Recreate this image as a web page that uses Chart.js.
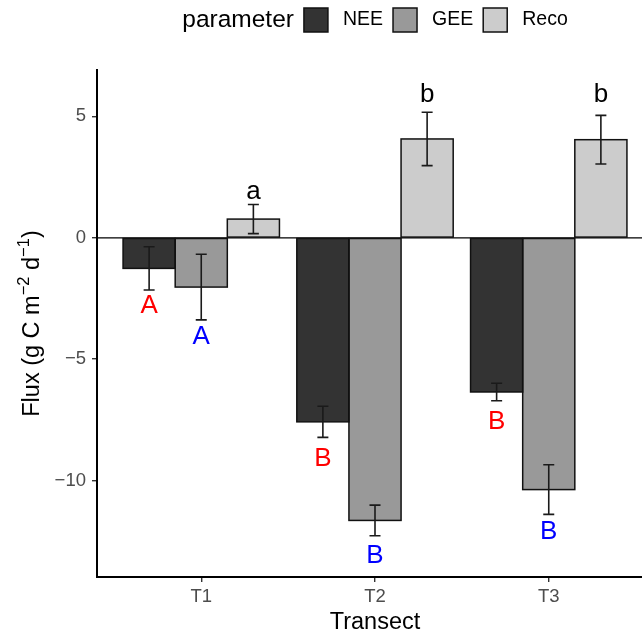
<!DOCTYPE html>
<html>
<head>
<meta charset="utf-8">
<script src="https://cdn.jsdelivr.net/npm/chart.js@4/dist/chart.umd.min.js"></script>
<style>
  html, body { margin: 0; padding: 0; overflow: hidden; background: #fff; }
  #wrap { width: 670px; height: 632px; position: relative; }
</style>
</head>
<body>
<div id="wrap"><canvas id="fluxChart"></canvas></div>
<script>
const categories = ['T1', 'T2', 'T3'];
const seriesNames = ['NEE', 'GEE', 'Reco'];
const seriesColors = ['#333333', '#999999', '#cccccc'];

const neeValues = [-1.26, -7.58, -6.35];
const geeValues = [-2.03, -11.64, -10.37];
const recoValues = [0.77, 4.07, 4.04];

const neeErrors = [0.89, 0.64, 0.36];
const geeErrors = [1.35, 0.63, 1.02];
const recoErrors = [0.60, 1.10, 1.00];

// significance letters and where they sit (baseline, data units)
const neeLetters = ['A', 'B', 'B'];
const geeLetters = ['A', 'B', 'B'];
const recoLetters = ['a', 'b', 'b'];
const neeLetterY = [-3.10, -9.41, -7.89];
const geeLetterY = [-4.39, -13.39, -12.39];
const recoLetterY = [1.59, 5.58, 5.60];
const letterColors = ['#ff0000', '#0000ff', '#000000'];

const yTicks = [-10, -5, 0, 5];
const yMin = -13.97;
const yMax = 6.91;

const FONT = "'Liberation Sans', Arial, sans-serif";

document.addEventListener('DOMContentLoaded', function() {
  const allValues = [neeValues, geeValues, recoValues];
  const allErrors = [neeErrors, geeErrors, recoErrors];
  const allLetters = [neeLetters, geeLetters, recoLetters];
  const allLetterY = [neeLetterY, geeLetterY, recoLetterY];

  const datasets = seriesNames.map((name, s) => ({
    label: name,
    data: allValues[s].map((v, i) => ({ x: i, y: v })),
    backgroundColor: seriesColors[s],
    borderWidth: 0,
    inflateAmount: 0,
    categoryPercentage: 0.9,
    barPercentage: 1.0,
    errors: allErrors[s],
    letters: allLetters[s],
    letterY: allLetterY[s],
    letterColor: letterColors[s]
  }));

  // zero line, bar outlines, error bars, letters, legend and axis titles
  const extras = {
    id: 'extras',
    beforeDatasetsDraw(chart) {
      const ctx = chart.ctx;
      const area = chart.chartArea;
      const y0 = chart.scales.y.getPixelForValue(0);
      ctx.save();
      ctx.strokeStyle = '#000';
      ctx.lineWidth = 1.2;
      ctx.beginPath();
      ctx.moveTo(area.left, y0);
      ctx.lineTo(area.right, y0);
      ctx.stroke();
      ctx.restore();
    },
    afterDatasetsDraw(chart) {
      const ctx = chart.ctx;
      const yScale = chart.scales.y;
      ctx.save();
      // outlines centred on the bar edges so neighbours share one line
      chart.data.datasets.forEach((ds, s) => {
        chart.getDatasetMeta(s).data.forEach(bar => {
          ctx.strokeStyle = '#111';
          ctx.lineWidth = 1.5;
          ctx.strokeRect(bar.x - bar.width / 2, Math.min(bar.y, bar.base),
                         bar.width, Math.abs(bar.base - bar.y));
        });
      });
      chart.data.datasets.forEach((ds, s) => {
        const meta = chart.getDatasetMeta(s);
        meta.data.forEach((bar, i) => {
          const v = ds.data[i].y;
          const e = ds.errors[i];
          const top = yScale.getPixelForValue(v + e);
          const bot = yScale.getPixelForValue(v - e);
          ctx.strokeStyle = '#1a1a1a';
          ctx.lineWidth = 1.6;
          ctx.beginPath();
          ctx.moveTo(bar.x, top);
          ctx.lineTo(bar.x, bot);
          ctx.moveTo(bar.x - 5.5, top);
          ctx.lineTo(bar.x + 5.5, top);
          ctx.moveTo(bar.x - 5.5, bot);
          ctx.lineTo(bar.x + 5.5, bot);
          ctx.stroke();

          ctx.fillStyle = ds.letterColor;
          ctx.font = '26px ' + FONT;
          ctx.textAlign = 'center';
          ctx.textBaseline = 'alphabetic';
          ctx.fillText(ds.letters[i], bar.x, yScale.getPixelForValue(ds.letterY[i]));
        });
      });
      ctx.restore();
    },
    afterDraw(chart) {
      const ctx = chart.ctx;
      const area = chart.chartArea;
      const cx = (area.left + area.right) / 2;
      ctx.save();

      // legend
      ctx.textBaseline = 'middle';
      ctx.textAlign = 'left';
      ctx.font = '24.5px ' + FONT;
      const titleW = ctx.measureText('parameter').width;
      ctx.font = '19.5px ' + FONT;
      const labelW = seriesNames.map(n => ctx.measureText(n).width);
      const box = 24;
      let total = titleW + 10;
      labelW.forEach((w, i) => { total += box + 15 + w + (i < labelW.length - 1 ? 10 : 0); });
      let x = cx - total / 2;
      const ly = 20;
      ctx.fillStyle = '#000';
      ctx.font = '24.5px ' + FONT;
      ctx.fillText('parameter', x, ly);
      x += titleW + 10;
      ctx.font = '19.5px ' + FONT;
      seriesNames.forEach((n, i) => {
        ctx.fillStyle = seriesColors[i];
        ctx.fillRect(x, ly - box / 2, box, box);
        ctx.strokeStyle = '#111';
        ctx.lineWidth = 1.5;
        ctx.strokeRect(x, ly - box / 2, box, box);
        x += box + 15;
        ctx.fillStyle = '#000';
        ctx.fillText(n, x, ly);
        x += labelW[i] + 10;
      });

      // x title
      ctx.textAlign = 'center';
      ctx.textBaseline = 'alphabetic';
      ctx.font = '23.5px ' + FONT;
      ctx.fillText('Transect', cx, 629);

      // y title with superscripts
      const parts = [
        { t: 'Flux (g C m', sup: false },
        { t: '\u22122', sup: true },
        { t: ' d', sup: false },
        { t: '\u22121', sup: true },
        { t: ')', sup: false }
      ];
      const mainFont = '23.5px ' + FONT;
      const supFont = '16.5px ' + FONT;
      let tw = 0;
      parts.forEach(p => {
        ctx.font = p.sup ? supFont : mainFont;
        p.w = ctx.measureText(p.t).width;
        tw += p.w;
      });
      ctx.translate(39, (area.top + area.bottom) / 2);
      ctx.rotate(-Math.PI / 2);
      ctx.textAlign = 'left';
      let px = -tw / 2;
      parts.forEach(p => {
        ctx.font = p.sup ? supFont : mainFont;
        ctx.fillText(p.t, px, p.sup ? -10 : 0);
        px += p.w;
      });
      ctx.restore();
    }
  };

  new Chart(document.getElementById('fluxChart'), {
    type: 'bar',
    data: { datasets: datasets },
    options: {
      responsive: true,
      maintainAspectRatio: false,
      animation: false,
      layout: { padding: { top: 70, right: 17, bottom: 0, left: 0 } },
      plugins: {
        legend: { display: false },
        tooltip: { enabled: false }
      },
      scales: {
        x: {
          type: 'linear',
          min: -0.6,
          max: 2.6,
          offset: false,
          afterBuildTicks: s => { s.ticks = categories.map((c, i) => ({ value: i })); },
          afterFit: s => { s.height = 55; },
          ticks: {
            autoSkip: false,
            maxRotation: 0,
            padding: 4,
            color: '#4d4d4d',
            font: { family: FONT, size: 18.5 },
            callback: v => categories[v]
          },
          grid: { offset: false, drawOnChartArea: false, drawTicks: true, tickLength: 5, color: '#333333', lineWidth: 1.4 },
          border: { display: true, color: '#000', width: 2 }
        },
        y: {
          min: yMin,
          max: yMax,
          afterBuildTicks: s => { s.ticks = yTicks.map(v => ({ value: v })); },
          afterFit: s => { s.width = 97; },
          ticks: {
            padding: 6,
            color: '#4d4d4d',
            font: { family: FONT, size: 18.5 },
            callback: v => v < 0 ? '\u2212' + Math.abs(v) : String(v)
          },
          grid: { drawOnChartArea: false, drawTicks: true, tickLength: 5, color: '#333333', lineWidth: 1.4 },
          border: { display: true, color: '#000', width: 2 }
        }
      }
    },
    plugins: [extras]
  });
});
</script>
</body>
</html>
